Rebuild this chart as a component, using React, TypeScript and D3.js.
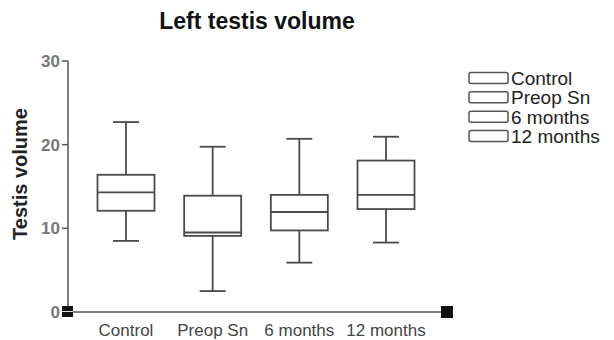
import React from "react";
import * as d3 from "d3";

// five-number summaries
const groups = ["Control", "Preop Sn", "6 months", "12 months"];
const mins = [8.5, 2.5, 5.9, 8.3];
const q1s = [12.1, 9.1, 9.75, 12.3];
const medians = [14.3, 9.5, 11.95, 14.0];
const q3s = [16.4, 13.9, 14.0, 18.1];
const maxs = [22.7, 19.75, 20.7, 20.95];
const yTicks = [0, 10, 20, 30];

const width = 614;
const height = 340;
const axisX = 68;

const App = () => {
    const y = d3.scaleLinear().domain([0, 30]).range([312, 61]);
    const x = d3.scalePoint<string>().domain(groups).range([126, 386]);
    const boxW = 57;
    const capW = 26;
    const stroke = "#4a4a4a";
    const font = "Liberation Sans, Arial, sans-serif";

    const legendY = d3.scalePoint<string>().domain(groups).range([78, 136]);

    return (
        <svg width={width} height={height} style={{ display: "block", position: "absolute", left: 0, top: 0 }}>
            <rect width={width} height={height} fill="#fff" />
            <text x={257} y={29} textAnchor="middle" fontFamily={font} fontWeight="bold" fontSize={23} fill="#111">
                Left testis volume
            </text>
            <text
                transform={`translate(27,174) rotate(-90)`}
                textAnchor="middle"
                fontFamily={font}
                fontWeight="bold"
                fontSize={20}
                fill="#222"
            >
                Testis volume
            </text>

            {/* y axis */}
            <line x1={axisX} x2={axisX} y1={y(30)} y2={y(0)} stroke="#555" strokeWidth={1.5} />
            {yTicks.map(t => (
                <g key={t}>
                    <line x1={axisX - 6} x2={axisX} y1={y(t)} y2={y(t)} stroke="#555" strokeWidth={1.5} />
                    <text
                        x={axisX - 8}
                        y={y(t)}
                        dy="0.36em"
                        textAnchor="end"
                        fontFamily={font}
                        fontWeight="bold"
                        fontSize={17}
                        fill="#777"
                    >
                        {t}
                    </text>
                </g>
            ))}

            {/* x axis */}
            <line x1={axisX} x2={447} y1={y(0)} y2={y(0)} stroke="#555" strokeWidth={1.5} />
            <rect x={axisX - 6} y={y(0) - 6} width={11} height={11} fill="#111" />
            <line x1={axisX - 6} x2={axisX + 5} y1={y(0) - 0.5} y2={y(0) - 0.5} stroke="#ddd" strokeWidth={1} />
            <rect x={441} y={y(0) - 6} width={12} height={12} fill="#111" />
            {groups.map(g => (
                <text key={g} x={x(g)} y={336} textAnchor="middle" fontFamily={font} fontSize={17} fill="#444">
                    {g}
                </text>
            ))}

            {/* boxes */}
            {groups.map((g, i) => {
                const cx = x(g) as number;
                return (
                    <g key={g} stroke={stroke} strokeWidth={1.8} fill="none">
                        <line x1={cx} x2={cx} y1={y(maxs[i])} y2={y(q3s[i])} />
                        <line x1={cx} x2={cx} y1={y(q1s[i])} y2={y(mins[i])} />
                        <line x1={cx - capW / 2} x2={cx + capW / 2} y1={y(maxs[i])} y2={y(maxs[i])} />
                        <line x1={cx - capW / 2} x2={cx + capW / 2} y1={y(mins[i])} y2={y(mins[i])} />
                        <rect x={cx - boxW / 2} y={y(q3s[i])} width={boxW} height={y(q1s[i]) - y(q3s[i])} />
                        <line x1={cx - boxW / 2} x2={cx + boxW / 2} y1={y(medians[i])} y2={y(medians[i])} />
                    </g>
                );
            })}

            {/* legend */}
            {groups.map(g => (
                <g key={g} transform={`translate(0,${legendY(g)})`}>
                    <rect x={469} y={-5.5} width={39} height={11} rx={2} fill="#fff" stroke="#555" strokeWidth={1.5} />
                    <text x={511} y={0} dy="0.36em" fontFamily={font} fontSize={19} fill="#222">
                        {g}
                    </text>
                </g>
            ))}
        </svg>
    );
};

export default App;
